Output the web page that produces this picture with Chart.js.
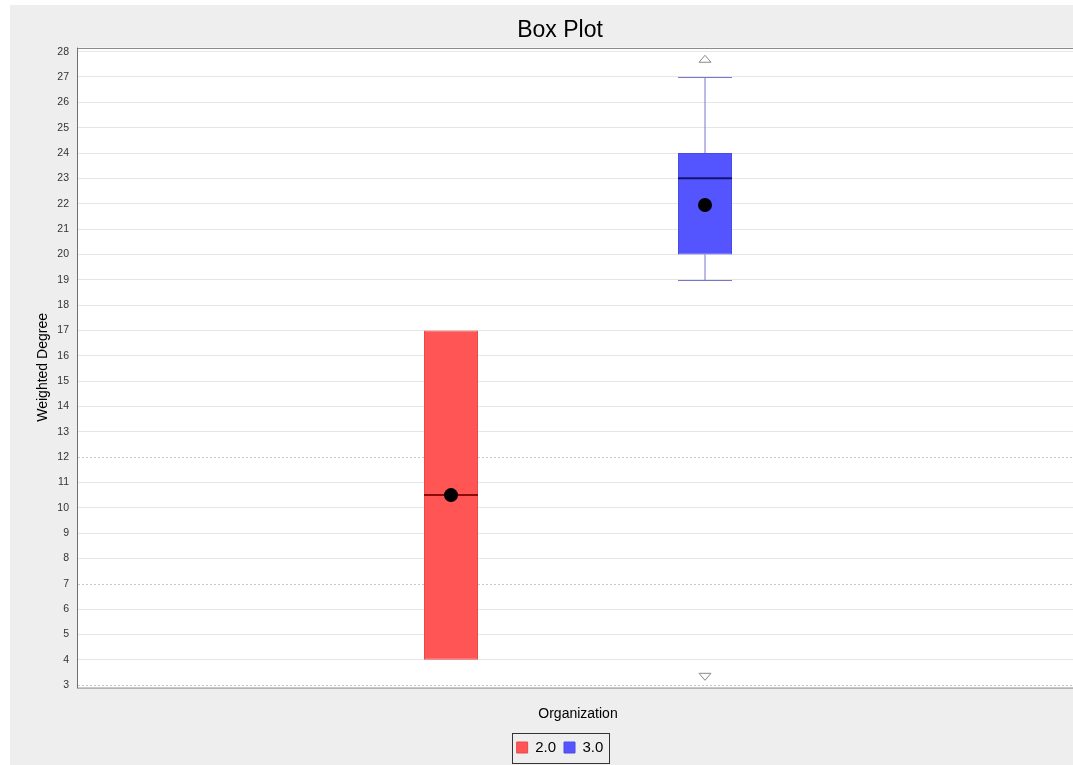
<!DOCTYPE html>
<html>
<head>
<meta charset="utf-8">
<script src="https://cdn.jsdelivr.net/npm/chart.js@4.4.1/dist/chart.umd.min.js"></script>
<style>
  html, body { margin: 0; padding: 0; background: #fff; overflow: hidden; }
  #wrap { position: absolute; left: 10px; top: 5px; width: 1100px; height: 760px; background: #eeeeee; }
</style>
</head>
<body>
<div id="wrap"><canvas id="boxChart"></canvas></div>
<script>
// ===== Data =====
const categories = ["2.0", "3.0"];
const q1Values = [4, 20];
const q3Values = [17, 24];
const medianValues = [10.5, 23];
const meanValues = [10.5, 21.95];
const whiskerLow = [4, 19];
const whiskerHigh = [17, 27];
const farHighMarks = [null, 27.7];
const farLowMarks = [null, 3.35];
const yTicks = [3, 4, 5, 6, 7, 8, 9, 10, 11, 12, 13, 14, 15, 16, 17, 18, 19, 20, 21, 22, 23, 24, 25, 26, 27, 28];
const dashedTicks = [3, 7, 12];

const seriesColors = ["#ff5555", "#5555ff"];
const seriesEdges = ["#e84a4a", "#4a4ae8"];
const medianColors = ["#8b0a0a", "#14146e"];
const whiskerColors = ["#d06060", "#7676cc"];
const fontFamily = "'Liberation Sans', Arial, sans-serif";

// ===== Extra box plot marks (whiskers, medians, means, plot frame) =====
const boxPlotExtras = {
  id: "boxPlotExtras",
  beforeDraw(chart) {
    const { ctx, chartArea: a } = chart;
    ctx.save();
    ctx.fillStyle = "#ffffff";
    ctx.fillRect(a.left, a.top, a.right - a.left, a.bottom - a.top);
    ctx.restore();
  },
  beforeDatasetsDraw(chart) {
    const { ctx, chartArea: a, scales } = chart;
    ctx.save();
    ctx.strokeStyle = "#c8c8c8";
    ctx.lineWidth = 1;
    ctx.setLineDash([2, 2]);
    dashedTicks.forEach((v) => {
      const y = Math.round(scales.y.getPixelForValue(v)) + 0.5;
      ctx.beginPath();
      ctx.moveTo(a.left, y);
      ctx.lineTo(a.right, y);
      ctx.stroke();
    });
    ctx.restore();
  },
  afterDatasetsDraw(chart) {
    const { ctx, chartArea: a, scales } = chart;
    const y = scales.y;
    ctx.save();
    categories.forEach((c, i) => {
      const bar = chart.getDatasetMeta(i).data[0];
      if (!bar) return;
      const x = bar.x;
      const half = bar.width / 2;

      // whiskers
      ctx.strokeStyle = whiskerColors[i];
      ctx.lineWidth = 1;
      if (whiskerHigh[i] > q3Values[i]) {
        const yt = Math.round(y.getPixelForValue(whiskerHigh[i])) + 0.5;
        ctx.beginPath();
        ctx.moveTo(x, y.getPixelForValue(q3Values[i]));
        ctx.lineTo(x, yt);
        ctx.moveTo(x - half, yt);
        ctx.lineTo(x + half, yt);
        ctx.stroke();
      }
      if (whiskerLow[i] < q1Values[i]) {
        const yb = Math.round(y.getPixelForValue(whiskerLow[i])) + 0.5;
        ctx.beginPath();
        ctx.moveTo(x, y.getPixelForValue(q1Values[i]));
        ctx.lineTo(x, yb);
        ctx.moveTo(x - half, yb);
        ctx.lineTo(x + half, yb);
        ctx.stroke();
      }

      // median
      ctx.strokeStyle = medianColors[i];
      ctx.lineWidth = 2;
      const ym = y.getPixelForValue(medianValues[i]);
      ctx.beginPath();
      ctx.moveTo(x - half, ym);
      ctx.lineTo(x + half, ym);
      ctx.stroke();

      // mean
      ctx.fillStyle = "#000000";
      ctx.beginPath();
      ctx.arc(x, y.getPixelForValue(meanValues[i]), 7, 0, Math.PI * 2);
      ctx.fill();

      // far-out markers
      ctx.strokeStyle = "#8a8a8a";
      ctx.fillStyle = "#ffffff";
      ctx.lineWidth = 1;
      if (farHighMarks[i] != null) {
        const yy = y.getPixelForValue(farHighMarks[i]);
        ctx.beginPath();
        ctx.moveTo(x, yy - 4);
        ctx.lineTo(x - 6, yy + 3);
        ctx.lineTo(x + 6, yy + 3);
        ctx.closePath();
        ctx.fill();
        ctx.stroke();
      }
      if (farLowMarks[i] != null) {
        const yy = y.getPixelForValue(farLowMarks[i]);
        ctx.beginPath();
        ctx.moveTo(x, yy + 4);
        ctx.lineTo(x - 6, yy - 3);
        ctx.lineTo(x + 6, yy - 3);
        ctx.closePath();
        ctx.fill();
        ctx.stroke();
      }
    });

    // plot frame
    ctx.strokeStyle = "#8c8c8c";
    ctx.lineWidth = 1;
    ctx.strokeRect(Math.round(a.left) - 0.5, Math.round(a.top) + 0.5, a.right - a.left, a.bottom - a.top);
    ctx.strokeStyle = "#707070";
    ctx.beginPath();
    ctx.moveTo(Math.round(a.left) - 0.5, a.top);
    ctx.lineTo(Math.round(a.left) - 0.5, a.bottom + 1);
    ctx.stroke();
    ctx.restore();
  },
  afterDraw(chart) {
    const boxes = chart.legend?.legendHitBoxes;
    if (!boxes || !boxes.length) return;
    const { ctx } = chart;
    const left = Math.min(...boxes.map((b) => b.left)) - 5;
    const right = Math.max(...boxes.map((b) => b.left + b.width)) + 5;
    const top = Math.min(...boxes.map((b) => b.top)) - 7;
    const bottom = Math.max(...boxes.map((b) => b.top + b.height)) + 8;
    ctx.save();
    ctx.strokeStyle = "#333333";
    ctx.lineWidth = 1;
    ctx.strokeRect(Math.round(left) + 0.5, Math.round(top) + 0.5, Math.round(right - left), Math.round(bottom - top));
    ctx.restore();
  },
};

const canvas = document.getElementById("boxChart");
const ctx = canvas.getContext("2d");
const boxChart = new Chart(ctx, {
  type: "bar",
  data: {
    labels: [""],
    datasets: categories.map((c, i) => ({
      label: c,
      data: [[q1Values[i], q3Values[i]]],
      backgroundColor: seriesColors[i],
      borderColor: seriesEdges[i],
      borderWidth: 1,
      borderSkipped: false,
      categoryPercentage: 0.508,
      barPercentage: 0.2126,
    })),
  },
  options: {
    responsive: true,
    maintainAspectRatio: false,
    animation: false,
    layout: { padding: 0 },
    plugins: {
      title: {
        display: true,
        text: "Box Plot",
        color: "#000",
        font: { family: fontFamily, size: 23, weight: "normal" },
        padding: { top: 12, bottom: 3 },
      },
      legend: {
        position: "bottom",
        labels: {
          boxWidth: 11,
          boxHeight: 11,
          padding: 8,
          color: "#000",
          font: { family: fontFamily, size: 15 },
        },
      },
      tooltip: { enabled: false },
    },
    scales: {
      x: {
        grid: { display: false },
        border: { display: false },
        ticks: { display: false },
        title: {
          display: true,
          text: "Organization",
          color: "#000",
          font: { family: fontFamily, size: 14 },
          padding: { top: 11, bottom: 9 },
        },
      },
      y: {
        min: 2.92,
        max: 28.16,
        afterBuildTicks: (scale) => {
          scale.ticks = yTicks.map((v) => ({ value: v }));
        },
        afterFit: (scale) => {
          scale.width = 68;
        },
        border: { display: false },
        grid: {
          drawTicks: false,
          color: (c) => (c.tick && dashedTicks.includes(c.tick.value) ? "rgba(0,0,0,0)" : "#e6e6e6"),
        },
        ticks: {
          color: "#333",
          padding: 9,
          font: { family: fontFamily, size: 10.5 },
          callback: (v) => v,
        },
        title: {
          display: true,
          text: "Weighted Degree",
          color: "#000",
          font: { family: fontFamily, size: 14 },
          padding: { top: 25, bottom: 0 },
        },
      },
      yR: {
        type: "linear",
        position: "right",
        grid: { display: false },
        border: { display: false },
        ticks: { display: false },
        afterFit: (scale) => {
          scale.width = 32;
        },
      },
    },
  },
  plugins: [boxPlotExtras],
});
</script>
</body>
</html>
